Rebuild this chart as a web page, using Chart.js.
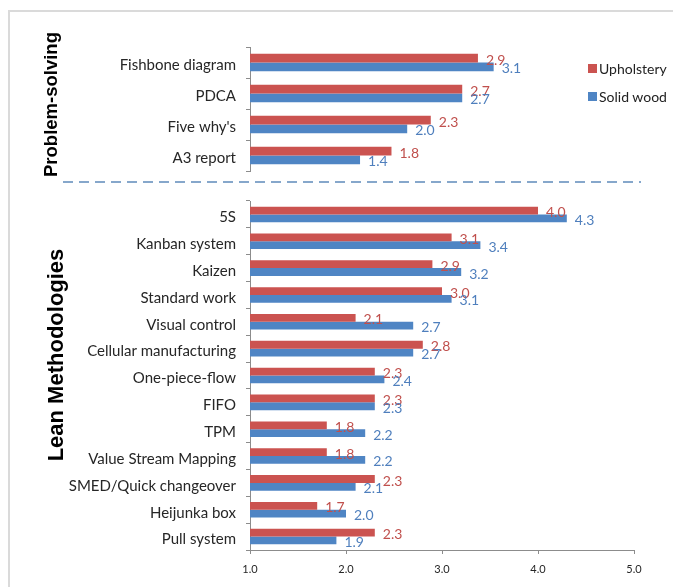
<!DOCTYPE html>
<html>
<head>
<meta charset="utf-8">
<script src="https://cdn.jsdelivr.net/npm/chart.js@4.4.1/dist/chart.umd.min.js"></script>
<style>
  html, body { margin: 0; padding: 0; background: #fff; overflow: hidden; }
  #frame { position: absolute; left: 8px; top: 10px; width: 720px; height: 640px;
           border-top: 2px solid #dadada; border-left: 2px solid #dadada; }
  #topChart { position: absolute; left: 0; top: 0; }
  #bottomChart { position: absolute; left: 0; top: 182px; }
  .legend { position: absolute; left: 588px; font-family: Lato, sans-serif; font-size: 14px; color: #222; }
  .legend .item { display: flex; align-items: center; height: 14px; margin-bottom: 14px; }
  .legend .sw { width: 9px; height: 9px; margin-right: 2px; }
</style>
</head>
<body>
<div id="frame"></div>
<canvas id="topChart" width="673" height="190"></canvas>
<canvas id="bottomChart" width="673" height="405"></canvas>
<div class="legend" style="top:61px">
  <div class="item"><span class="sw" id="swUph"></span><span id="lgUph"></span></div>
  <div class="item"><span class="sw" id="swSol"></span><span id="lgSol"></span></div>
</div>
<script>
// Problem-solving tools
const problemCategories = ["Fishbone diagram", "PDCA", "Five why's", "A3 report"];
const problemUpholstery = [2.9, 2.7, 2.3, 1.8];
const problemSolidWood  = [3.1, 2.7, 2.0, 1.4];

// Lean methodologies
const leanCategories = ["5S", "Kanban system", "Kaizen", "Standard work", "Visual control",
  "Cellular manufacturing", "One-piece-flow", "FIFO", "TPM", "Value Stream Mapping",
  "SMED/Quick changeover", "Heijunka box", "Pull system"];
const leanUpholstery = [4.0, 3.1, 2.9, 3.0, 2.1, 2.8, 2.3, 2.3, 1.8, 1.8, 2.3, 1.7, 2.3];
const leanSolidWood  = [4.3, 3.4, 3.2, 3.1, 2.7, 2.7, 2.4, 2.3, 2.2, 2.2, 2.1, 2.0, 1.9];

const xTicks = [1.0, 2.0, 3.0, 4.0, 5.0];
const seriesNames = ["Upholstery", "Solid wood"];
const groupTitles = ["Problem-solving", "Lean Methodologies"];

const RED = '#CB5350', BLUE = '#4F85C4';
const RED_TXT = '#C0504D', BLUE_TXT = '#4F7FBD';
const AXIS = '#8c8c8c';
const LABEL_FONT = { family: 'Lato, sans-serif', size: 14 };
const CAT_FONT = { family: 'Lato, sans-serif', size: 15 };

document.getElementById('swUph').style.background = RED;
document.getElementById('swSol').style.background = BLUE;
document.getElementById('lgUph').textContent = seriesNames[0];
document.getElementById('lgSol').textContent = seriesNames[1];

// value labels to the right of each bar end
const valueLabels = {
  id: 'valueLabels',
  afterDatasetsDraw(chart) {
    const ctx = chart.ctx;
    ctx.save();
    ctx.font = LABEL_FONT.size + 'px ' + LABEL_FONT.family;
    ctx.textBaseline = 'middle';
    ctx.textAlign = 'left';
    chart.data.datasets.forEach((ds, i) => {
      const meta = chart.getDatasetMeta(i);
      ctx.fillStyle = ds.labelColor;
      meta.data.forEach((bar, j) => {
        ctx.fillText(ds.data[j].toFixed(1), bar.x + 8, bar.y + 2);
      });
    });
    ctx.restore();
  }
};

// rotated group caption at the far left
const groupCaption = {
  id: 'groupCaption',
  afterDraw(chart, args, opts) {
    const ctx = chart.ctx;
    ctx.save();
    ctx.translate(opts.x, opts.y);
    ctx.rotate(-Math.PI / 2);
    ctx.font = 'bold ' + opts.size + 'px "Liberation Sans", Arial, sans-serif';
    ctx.fillStyle = '#000';
    ctx.textAlign = 'center';
    ctx.textBaseline = 'alphabetic';
    ctx.fillText(opts.text, 0, 0);
    ctx.restore();
  }
};

// dashed separator between the two groups
const separator = {
  id: 'separator',
  afterDraw(chart, args, opts) {
    if (!opts.draw) return;
    const ctx = chart.ctx;
    ctx.save();
    ctx.strokeStyle = '#5f8bbb';
    ctx.lineWidth = 1.3;
    ctx.setLineDash([10, 6]);
    ctx.beginPath();
    ctx.moveTo(63, opts.y);
    ctx.lineTo(641, opts.y);
    ctx.stroke();
    ctx.restore();
  }
};

function datasets(uph, sol, pct) {
  return [
    { label: seriesNames[0], data: uph, backgroundColor: RED, labelColor: RED_TXT,
      categoryPercentage: pct, barPercentage: 1.0 },
    { label: seriesNames[1], data: sol, backgroundColor: BLUE, labelColor: BLUE_TXT,
      categoryPercentage: pct, barPercentage: 1.0 }
  ];
}

function yAxis() {
  return {
    type: 'category',
    afterFit(scale) { scale.width = 250; },
    grid: { offset: true, drawOnChartArea: false, drawTicks: true, tickLength: 4, color: AXIS },
    border: { display: true, color: AXIS },
    ticks: { font: CAT_FONT, color: '#262626', padding: 10, autoSkip: false, labelOffset: 3 }
  };
}

new Chart(document.getElementById('topChart'), {
  type: 'bar',
  data: { labels: problemCategories, datasets: datasets(problemUpholstery, problemSolidWood, 0.57) },
  options: {
    indexAxis: 'y',
    responsive: false,
    animation: false,
    layout: { padding: { top: 47, bottom: 16, left: 0, right: 30 } },
    scales: {
      x: { type: 'linear', min: 0, max: 5, display: false },
      y: yAxis()
    },
    plugins: {
      legend: { display: false },
      tooltip: { enabled: false },
      groupCaption: { text: groupTitles[0], x: 57, y: 104.5, size: 18.5 },
      separator: { draw: true, y: 182 }
    }
  },
  plugins: [valueLabels, groupCaption, separator]
});

new Chart(document.getElementById('bottomChart'), {
  type: 'bar',
  data: { labels: leanCategories, datasets: datasets(leanUpholstery, leanSolidWood, 0.58) },
  options: {
    indexAxis: 'y',
    responsive: false,
    animation: false,
    layout: { padding: { top: 8, bottom: 0, left: 0, right: 39 } },
    scales: {
      x: {
        type: 'linear', min: xTicks[0], max: xTicks[xTicks.length - 1],
        afterFit(scale) { scale.height = 37; },
        afterBuildTicks(scale) { scale.ticks = xTicks.map(v => ({ value: v })); },
        grid: { drawOnChartArea: false, drawTicks: true, tickLength: 4, color: AXIS },
        border: { display: true, color: AXIS },
        ticks: { font: { family: 'Lato, sans-serif', size: 11 }, color: '#262626', padding: 9,
                 callback: v => Number(v).toFixed(1) }
      },
      y: yAxis()
    },
    plugins: {
      legend: { display: false },
      tooltip: { enabled: false },
      groupCaption: { text: groupTitles[1], x: 62.5, y: 173, size: 22 },
      separator: { draw: false }
    }
  },
  plugins: [valueLabels, groupCaption, separator]
});
</script>
</body>
</html>
